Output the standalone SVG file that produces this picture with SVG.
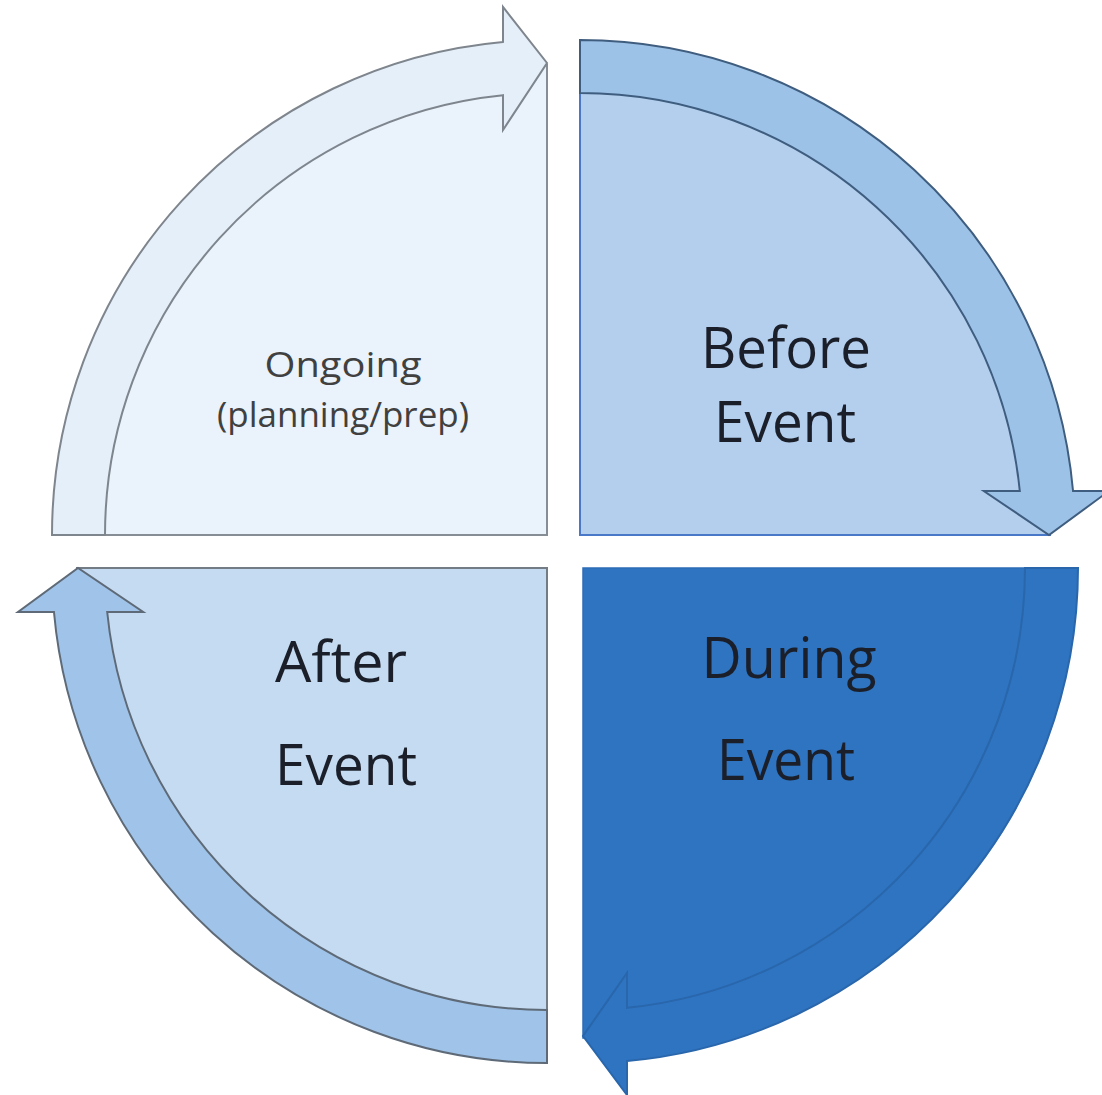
<svg xmlns="http://www.w3.org/2000/svg" width="1102" height="1095" viewBox="0 0 1102 1095">
<style>
.lbl{font-family:"Open Sans","Liberation Sans",sans-serif;text-anchor:middle}
.big{font-size:56px;fill:#1b1f2a}
.small{font-size:35px;fill:#404040}
.arrow{stroke-width:2;stroke-linejoin:miter}
</style>
<rect width="1102" height="1095" fill="#ffffff"/>
<g id="node-ongoing">
<path d="M547,535 H77 A470,470 0 0,1 547,65 Z" fill="#eaf2fb" stroke="#878d94" stroke-width="2"/>
<text class="lbl small" x="343" y="377" textLength="157" lengthAdjust="spacingAndGlyphs">Ongoing</text>
<text class="lbl small" x="343" y="427" textLength="252" lengthAdjust="spacingAndGlyphs">(planning/prep)</text>
</g>
<g id="node-before">
<path d="M580,535 V65 A470,470 0 0,1 1050,535 Z" fill="#b4cfee" stroke="#4a78c8" stroke-width="2"/>
<text class="lbl big" x="786" y="368" textLength="170" lengthAdjust="spacingAndGlyphs">Before</text>
<text class="lbl big" x="785" y="442" textLength="142" lengthAdjust="spacingAndGlyphs">Event</text>
</g>
<g id="node-after">
<path d="M547,568 H77 A470,470 0 0,0 547,1038 Z" fill="#c5dbf1" stroke="#737b84" stroke-width="2"/>
<text class="lbl big" x="341" y="682" textLength="132" lengthAdjust="spacingAndGlyphs">After</text>
<text class="lbl big" x="346" y="785" textLength="142" lengthAdjust="spacingAndGlyphs">Event</text>
</g>
<g id="node-during">
<path d="M583,568 H1053 A470,470 0 0,1 583,1038 Z" fill="#2e74c1" stroke="#2c6cb5" stroke-width="1.5"/>
<text class="lbl big" x="789" y="678" textLength="175" lengthAdjust="spacingAndGlyphs" fill="#0f1a2b">During</text>
<text class="lbl big" x="786" y="780" textLength="138" lengthAdjust="spacingAndGlyphs" fill="#0f1a2b">Event</text>
</g>
<g id="connectors">
<path class="arrow" d="M52,535 A495,495 0 0,1 503,41.96 L503,7 L547,63 L503,130 L503,95.2 A442,442 0 0,0 105,535 Z" fill="#e5effa" stroke="#7e858d"/>
<path class="arrow" d="M580,40 A495,495 0 0,1 1073.04,491 L1109,491 L1049,535 L983.8,491 L1019.8,491 A442,442 0 0,0 580,93 Z" fill="#9dc2e8" stroke="#3f5d7e"/>
<path class="arrow" d="M547,1063 A495,495 0 0,1 53.96,612 L18,612 L78,568 L143.2,612 L107.2,612 A442,442 0 0,0 547,1010 Z" fill="#a0c4e9" stroke="#5e6a77"/>
<path class="arrow" d="M1078,568 A495,495 0 0,1 627,1061.04 L627,1095 L583,1036 L627,973 L627,1007.8 A442,442 0 0,0 1025,568 Z" fill="#2e74c1" stroke="#2966ab" stroke-width="1.5"/>
</g>
</svg>
